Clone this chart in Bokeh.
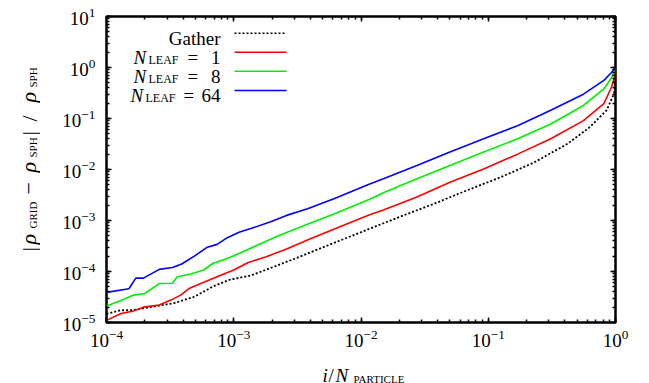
import math
from bokeh.plotting import figure
from bokeh.models import Range1d, LogAxis, LogTicker, Label, Arrow
from bokeh.layouts import row, column
from bokeh.embed import file_html
from bokeh.resources import INLINE

# ---------------- data ----------------
x_gather = [1.0e-4, 1.3e-4, 1.6e-4, 2.2e-4, 3.4e-4, 4.9e-4, 6.9e-4, 9.3e-4, 1.35e-3, 2.0e-3,
            3.3e-3, 5.4e-3, 1.17e-2, 2.0e-2, 3.7e-2, 6.8e-2, 0.126, 0.23, 0.42, 0.63, 0.85, 0.97, 1.0]
y_gather = [1.48e-5, 1.74e-5, 1.74e-5, 2.0e-5, 2.4e-5, 3.2e-5, 5.1e-5, 6.9e-5, 8.3e-5, 1.2e-4,
            1.95e-4, 3.2e-4, 6.9e-4, 1.17e-3, 2.1e-3, 3.9e-3, 7.1e-3, 1.38e-2, 3.2e-2, 6.8e-2, 0.145, 0.30, 0.5]

x_leaf1 = [1.0e-4, 1.3e-4, 1.6e-4, 1.95e-4, 2.6e-4, 3.2e-4, 3.8e-4, 4.5e-4, 5.5e-4, 7.4e-4,
           1.0e-3, 1.3e-3, 1.8e-3, 2.6e-3, 4.0e-3, 6.9e-3, 1.17e-2, 1.5e-2, 2.75e-2, 5.0e-2,
           9.2e-2, 0.17, 0.31, 0.56, 0.81, 0.93, 0.99, 1.0]
y_leaf1 = [1.1e-5, 1.5e-5, 1.66e-5, 2.0e-5, 2.2e-5, 2.75e-5, 3.4e-5, 4.7e-5, 5.8e-5, 7.9e-5,
           1.07e-4, 1.5e-4, 1.95e-4, 2.75e-4, 4.4e-4, 7.6e-4, 1.3e-3, 1.6e-3, 2.9e-3, 5.6e-3,
           1.02e-2, 2.0e-2, 4.0e-2, 9.1e-2, 0.195, 0.41, 0.7, 1.0]

x_leaf8 = [1.0e-4, 1.3e-4, 1.6e-4, 2.0e-4, 2.6e-4, 3.3e-4, 3.6e-4, 4.6e-4, 5.8e-4, 6.9e-4,
           8.9e-4, 1.12e-3, 1.5e-3, 2.2e-3, 3.3e-3, 6.2e-3, 1.17e-2, 1.5e-2, 2.75e-2, 5.0e-2,
           9.2e-2, 0.17, 0.31, 0.56, 0.81, 0.93, 1.0]
y_leaf8 = [2.1e-5, 2.7e-5, 3.4e-5, 3.7e-5, 5.8e-5, 5.9e-5, 7.9e-5, 8.9e-5, 1.07e-4, 1.45e-4,
           1.8e-4, 2.3e-4, 3.2e-4, 4.9e-4, 7.4e-4, 1.35e-3, 2.6e-3, 3.5e-3, 6.6e-3, 1.2e-2,
           2.2e-2, 4.0e-2, 7.8e-2, 0.18, 0.38, 0.63, 1.0]

x_leaf64 = [1.0e-4, 1.5e-4, 1.7e-4, 1.95e-4, 2.6e-4, 3.3e-4, 3.9e-4, 4.9e-4, 6.2e-4, 7.4e-4,
            8.9e-4, 1.1e-3, 1.4e-3, 1.95e-3, 2.6e-3, 3.8e-3, 6.2e-3, 1.17e-2, 1.5e-2, 2.75e-2,
            5.0e-2, 9.2e-2, 0.17, 0.31, 0.56, 0.81, 0.93, 1.0]
y_leaf64 = [3.9e-5, 4.6e-5, 7.4e-5, 7.4e-5, 1.1e-4, 1.2e-4, 1.4e-4, 2.0e-4, 3.0e-4, 3.4e-4,
            4.6e-4, 5.9e-4, 7.1e-4, 9.5e-4, 1.26e-3, 1.7e-3, 2.7e-3, 5.2e-3, 6.6e-3, 1.2e-2,
            2.2e-2, 4.0e-2, 7.2e-2, 0.145, 0.30, 0.56, 0.8, 1.0]

series_names = ["Gather", "1", "8", "64"]
series_colors = ["black", "#ff0000", "#00ee00", "#0000ff"]
series_dash = ["2 2", "solid", "solid", "solid"]
series_x = [x_gather, x_leaf1, x_leaf8, x_leaf64]
series_y = [y_gather, y_leaf1, y_leaf8, y_leaf64]

x_limits = (1e-4, 1.0)
y_limits = (1e-5, 10.0)

FONT = "Liberation Serif"

# page geometry
YT_W = 40        # width of the strip holding the y-axis title
XT_TOP = 354     # page y where the strip holding the x-axis title starts
PAGE_W, PAGE_H = 649, 383

# ---------------- main figure ----------------
p = figure(x_axis_type="log", y_axis_type="log",
           frame_width=509, frame_height=306,
           x_range=Range1d(*x_limits), y_range=Range1d(*y_limits),
           output_backend="svg", toolbar_location=None,
           min_border_left=106 - YT_W, min_border_right=34, min_border_top=16,
           min_border_bottom=XT_TOP - 322)
p.title.visible = False
p.grid.visible = False
p.outline_line_color = "black"
p.outline_line_width = 2.5
p.background_fill_color = "white"
p.border_fill_color = "white"

bottom_axis = p.below[0]
left_axis = p.left[0]
top_axis = LogAxis()
right_axis = LogAxis()
p.add_layout(top_axis, "above")
p.add_layout(right_axis, "right")

for ax in [bottom_axis, left_axis, top_axis, right_axis]:
    ax.ticker = LogTicker(num_minor_ticks=10)
    ax.axis_line_color = None
    ax.major_tick_in = 5
    ax.major_tick_out = 0
    ax.minor_tick_in = 3
    ax.minor_tick_out = 0
    ax.major_tick_line_color = "black"
    ax.minor_tick_line_color = "black"
    ax.major_tick_line_width = 1.5
    ax.minor_tick_line_width = 1.5
    ax.major_label_text_font = FONT
    ax.major_label_text_color = "black"
    ax.major_label_text_font_style = "normal"
    ax.major_label_text_font_size = "19px"

for ax in [top_axis, right_axis]:
    ax.major_label_text_font_size = "1px"
    ax.major_label_text_color = None
    ax.major_label_standoff = 0

bottom_axis.major_label_standoff = 7
left_axis.major_label_standoff = 11

# ---------------- data lines ----------------
for xs, ys, c, d in zip(series_x, series_y, series_colors, series_dash):
    p.line(xs, ys, line_color=c, line_width=1.6 if d == "solid" else 1.8, line_dash=d)


# ---------------- helpers for composed text ----------------
def txt(fig, ox, oy_bottom, s, px, py, size, style="normal", align="left", angle=0.0):
    """Place text at page pixel (px, py); (ox, oy_bottom) = page pos of the frame's left/bottom."""
    fig.add_layout(Label(x=px - ox, y=oy_bottom - py, x_units="screen", y_units="screen",
                         text=s, text_font=FONT, text_font_size=f"{size}px",
                         text_font_style=style, text_align=align,
                         text_baseline="alphabetic", text_color="black", angle=angle))


def blank_fig(w, h):
    f = figure(width=w, height=h, x_range=Range1d(0, 1), y_range=Range1d(0, 1),
               output_backend="svg", toolbar_location=None,
               x_axis_location=None, y_axis_location=None, min_border=0)
    f.title.visible = False
    f.grid.visible = False
    f.outline_line_color = None
    f.background_fill_color = "white"
    f.border_fill_color = "white"
    return f


# ---------------- legend (inside the main frame) ----------------
FL, FB = 106, 322
row_line_y = [32.7, 51.7, 70.7, 90.0]
n_start = [None, 133, 133, 130]
eq_start = [None, 187, 187, 183]
for i, name in enumerate(series_names):
    base = row_line_y[i] + 5.3
    if i == 0:
        txt(p, FL, FB, name, 220, base, 19, align="right")
    else:
        txt(p, FL, FB, "N", n_start[i], base, 19, "italic")
        txt(p, FL, FB, "LEAF", n_start[i] + 15, base + 2.5, 12)
        txt(p, FL, FB, "=", eq_start[i], base, 19)
        txt(p, FL, FB, name, 220, base, 19, align="right")
    p.add_layout(Arrow(end=None, start=None,
                       x_start=234 - FL, y_start=FB - row_line_y[i],
                       x_end=286 - FL, y_end=FB - row_line_y[i],
                       start_units="screen", end_units="screen",
                       line_color=series_colors[i], line_width=1.6,
                       line_dash=series_dash[i]))

# ---------------- y-axis title strip: |rho_GRID - rho_SPH| / rho_SPH ----------------
yfig = blank_fig(YT_W, XT_TOP)
A = math.pi / 2
for s, px, py, size, style in [
    ("|", 29, 283, 22, "normal"),
    ("ρ", 28, 276, 22, "italic"),
    ("GRID", 32, 260, 11, "normal"),
    ("−", 28, 226, 22, "normal"),
    ("ρ", 28, 204, 22, "italic"),
    ("SPH", 32, 189, 11, "normal"),
    ("|", 29, 167, 22, "normal"),
    ("/", 29, 153, 22, "normal"),
    ("ρ", 28, 134, 22, "italic"),
    ("SPH", 32, 119, 11, "normal"),
]:
    txt(yfig, 0, XT_TOP, s, px, py, size, style, angle=A)

# ---------------- x-axis title strip: i/N_PARTICLE ----------------
xfig = blank_fig(PAGE_W, PAGE_H - XT_TOP)
for s, px, py, size, style in [
    ("i", 322, 375, 19, "italic"),
    ("/", 328, 375, 19, "normal"),
    ("N", 335, 375, 19, "italic"),
    ("PARTICLE", 353, 378, 11, "normal"),
]:
    txt(xfig, 0, PAGE_H, s, px, py, size, style)

layout = column(row(yfig, p, spacing=0), xfig, spacing=0)

open("out.html", "w").write(file_html(layout, INLINE))
